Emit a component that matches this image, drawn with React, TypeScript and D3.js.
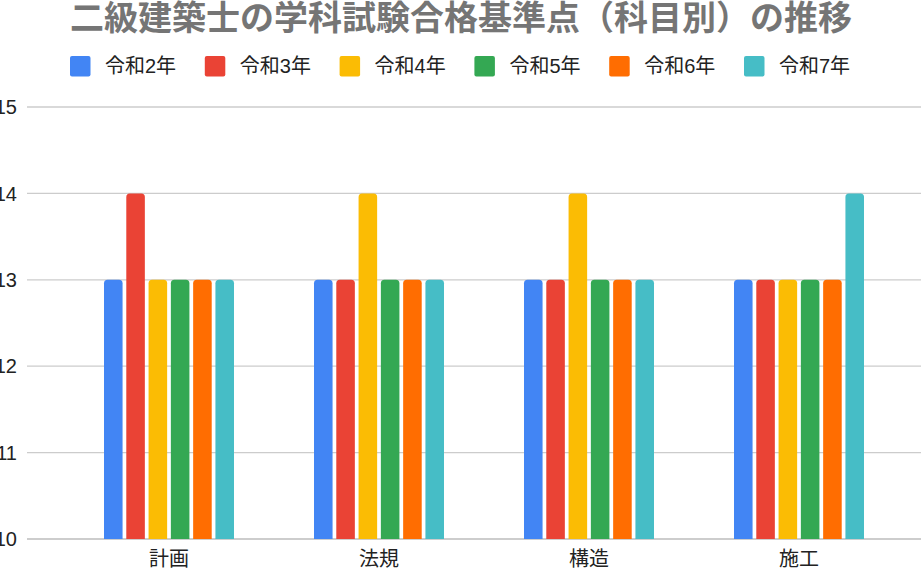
import React from "react";
import * as d3 from "d3";

const categories = ["計画", "法規", "構造", "施工"];
const seriesNames = ["令和2年", "令和3年", "令和4年", "令和5年", "令和6年", "令和7年"];
const seriesColors = ["#4285F4", "#EA4335", "#FBBC04", "#34A853", "#FF6D01", "#46BDC6"];
const r2 = [13, 13, 13, 13];
const r3 = [14, 13, 13, 13];
const r4 = [13, 14, 14, 13];
const r5 = [13, 13, 13, 13];
const r6 = [13, 13, 13, 13];
const r7 = [13, 13, 13, 14];
const seriesValues = [r2, r3, r4, r5, r6, r7];
const yTicks = [10, 11, 12, 13, 14, 15];
const title = "二級建築士の学科試験合格基準点（科目別）の推移";

const W = 921;
const H = 569;
const FONT = "'Liberation Sans', Arial, 'Noto Sans CJK JP', sans-serif";

function topRoundedBar(x: number, y: number, w: number, h: number, r: number) {
  const rr = Math.min(r, w / 2, h);
  return `M${x},${y + h}V${y + rr}Q${x},${y} ${x + rr},${y}H${x + w - rr}Q${x + w},${y} ${x + w},${y + rr}V${y + h}Z`;
}

export default function App() {
  const x0 = d3.scaleBand<string>().domain(categories).range([64, 904]).paddingInner(0.381).paddingOuter(0.1905);
  const x1 = d3.scaleBand<string>().domain(seriesNames).range([0, x0.bandwidth()]).paddingInner(0.167).paddingOuter(0);
  const y = d3.scaleLinear().domain([10, 15]).range([539, 107]);

  const legendX = d3.scaleLinear().domain([0, 1]).range([70, 204.8]);

  return (
    <svg width={W} height={H} style={{ position: "absolute", left: 0, top: 0, background: "#fff" }} fontFamily={FONT}>
      <rect x={0} y={0} width={W} height={H} fill="#fff" />
      <text x={461} y={30} textAnchor="middle" fontSize={34} fontWeight="bold" fill="#757575">{title}</text>
      {seriesNames.map((s, i) => (
        <g key={s} transform={`translate(${legendX(i)},56)`}>
          <rect x={0} y={0} width={20.5} height={20.5} rx={2} fill={seriesColors[i]} />
          <text x={35} y={17} fontSize={20} fill="#222">{s}</text>
        </g>
      ))}
      {yTicks.map((t) => (
        <g key={t}>
          <line x1={27} x2={W} y1={y(t)} y2={y(t)} stroke={t === 10 ? "#bdbdbd" : "#cccccc"} strokeWidth={1.3} />
          <text x={17} y={y(t)} dy="0.36em" textAnchor="end" fontSize={20} fill="#222">{t}</text>
        </g>
      ))}
      {categories.map((c, ci) => (
        <g key={c} transform={`translate(${x0(c)},0)`}>
          {seriesNames.map((s, si) => {
            const v = seriesValues[si][ci];
            const yy = y(v);
            return (
              <path
                key={s}
                d={topRoundedBar(x1(s)!, yy, x1.bandwidth(), y(10) - yy, 3.5)}
                fill={seriesColors[si]}
              />
            );
          })}
          <text x={x0.bandwidth() / 2} y={566} textAnchor="middle" fontSize={20} fill="#222">{c}</text>
        </g>
      ))}
    </svg>
  );
}
